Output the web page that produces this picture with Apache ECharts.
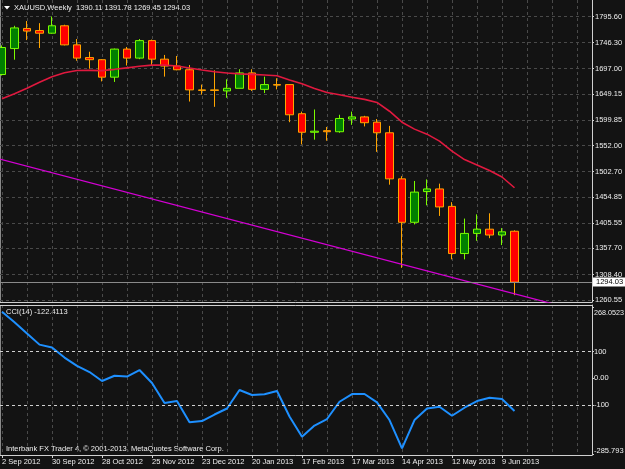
<!DOCTYPE html>
<html><head><meta charset="utf-8">
<script src="https://cdn.jsdelivr.net/npm/echarts@6/dist/echarts.min.js"></script>
<style>html,body{margin:0;padding:0;background:#131313;}#c{width:625px;height:469px;}</style>
</head><body><div id="c"></div>
<script>
// ---- data (weekly XAUUSD, index 0 = week of 2 Sep 2012) ----
const weekIndex = [0,1,2,3,4,5,6,7,8,9,10,11,12,13,14,15,16,17,18,19,20,21,22,23,24,25,26,27,28,29,30,31,32,33,34,35,36,37,38,39,40,41];
const opens  = [1686,1735,1773,1769,1764,1778,1742,1718,1714,1681,1734,1717,1750,1715,1702,1695,1657,1657,1655,1660,1689,1658,1667,1667,1612,1577,1580,1578,1602,1606,1596,1576,1489,1407,1465,1470,1437,1348,1386,1394,1383,1390.11];
const highs  = [1741,1778,1787,1783,1795.6,1780,1753,1729,1715,1735,1738,1753,1752,1723,1721,1704,1667,1694,1677,1696,1696,1682,1679,1668,1616,1620,1587,1610,1616,1608,1602,1589,1494,1485,1488,1480,1445,1414,1422,1424,1396,1391.78];
const lows   = [1684,1714,1751,1736,1763,1741,1712,1697,1673,1672,1703,1715,1704,1682,1694,1635,1648,1625,1642,1660,1655,1651,1658,1596,1554,1563,1561,1576,1591,1588,1540,1478,1321,1403,1439,1419,1337,1337,1372,1377,1364,1269.45];
const closes = [1737,1774,1768,1764,1778,1742,1717,1714,1681,1734,1717,1750,1715,1702,1695,1657,1656,1656,1660,1689,1658,1667,1666,1610,1577,1579,1578,1603,1606,1595,1576,1489,1407,1464,1470,1436,1348,1386,1394,1383,1389,1294.03];
const maValues = [1640.3,1649.7,1660.0,1671.3,1681.7,1689.2,1693.6,1693.9,1693.4,1695.8,1698.6,1701.5,1703.7,1703.7,1702.0,1698.3,1694.5,1691.1,1688.9,1687.3,1686.2,1685.1,1683.6,1675.7,1668.5,1659.5,1652.1,1647.8,1643.1,1639.1,1633.3,1616.7,1596.0,1582.9,1573.4,1560.3,1541.4,1525.4,1515.1,1504.7,1492.5,1472.2];
const cciValues = [250,210.5,168.5,126.5,115.6,78,46.9,23.6,-10.1,9.8,6.8,31.1,-17.6,-92.7,-85.2,-165.1,-160.2,-135.8,-113.3,-43.9,-62.7,-60,-47.7,-143.3,-219.1,-177.1,-152.7,-87.8,-58.9,-58.9,-90.1,-156.5,-262.7,-156.5,-113.3,-106.6,-140.3,-110.3,-85.2,-72.8,-77.7,-122.4113];
const trendLine = [[-1,1531.3],[44,1253.5]];
const bidPrice = 1294.03;
const cciLevels = [100,-100];
const priceTicks = [1795.60,1746.30,1697.00,1649.15,1599.85,1552.00,1502.70,1454.85,1405.55,1357.70,1308.40,1260.55];
const cciTicks = [268.0523,100,0,-100,-285.793];
const cciTickLabels = ['268.0523','100','0.00','-100','-285.793'];
const dateLabels = ['2 Sep 2012','30 Sep 2012','28 Oct 2012','25 Nov 2012','23 Dec 2012','20 Jan 2013','17 Feb 2013','17 Mar 2013','14 Apr 2013','12 May 2013','9 Jun 2013'];
const dateTickIdx = dateLabels.map((d,k)=>k*4);

// ---- build ----
const FONT = 'Liberation Sans';
const TXT = '#eeeeee';
const FRAME = '#d0d0d0';
const GRIDC = '#4a4a4a';
const candleData = weekIndex.map((x,i)=>[x, opens[i], closes[i], lows[i], highs[i]]);
const maData = weekIndex.map((x,i)=>[x, maValues[i]]);
const cciData = weekIndex.map((x,i)=>[x, cciValues[i]]);
const last = weekIndex.length-1;

const xSplit = {type:'value', min:-4, max:47.2, interval:2,
  axisLabel:{show:false}, axisTick:{show:false},
  splitLine:{show:true, lineStyle:{color:GRIDC, type:[3,3], width:1}}};

const chart = echarts.init(document.getElementById('c'), null, {renderer:'canvas'});
chart.setOption({
  backgroundColor:'#131313',
  animation:false,
  textStyle:{fontFamily:FONT},
  grid:[
    {left:-48, right:33, top:0, height:302, containLabel:false, outerBoundsMode:'none'},
    {left:-48, right:33, top:305, height:150, containLabel:false, outerBoundsMode:'none'}
  ],
  xAxis:[
    Object.assign({}, xSplit, {gridIndex:0, position:'bottom', axisLine:{show:true, onZero:false, lineStyle:{color:FRAME}}}),
    Object.assign({}, xSplit, {gridIndex:1, position:'top', axisLine:{show:true, onZero:false, lineStyle:{color:FRAME}}}),
    {type:'value', gridIndex:1, position:'bottom', min:-4, max:47.2,
     axisLine:{show:true, onZero:false, lineStyle:{color:FRAME}},
     axisTick:{show:true, customValues:dateTickIdx, length:3, lineStyle:{color:FRAME}},
     axisLabel:{show:true, customValues:dateTickIdx, formatter:v=>dateLabels[Math.round(v/4)]||'', align:'left', color:TXT, fontSize:7.5, fontFamily:FONT, margin:3},
     splitLine:{show:false}}
  ],
  yAxis:[
    {type:'value', gridIndex:0, position:'right', min:1256.5, max:1826.7,
     axisLine:{show:true, onZero:false, lineStyle:{color:FRAME}},
     axisTick:{show:true, customValues:priceTicks, length:2, lineStyle:{color:FRAME}},
     axisLabel:{customValues:priceTicks, formatter:v=>v.toFixed(2), color:TXT, fontSize:7.5, fontFamily:FONT, margin:3},
     splitLine:{show:true, lineStyle:{color:GRIDC, type:[3,3], width:1}}},
    {type:'value', gridIndex:1, position:'right', min:-287.7, max:275.2,
     axisLine:{show:true, onZero:false, lineStyle:{color:FRAME}},
     axisTick:{show:true, customValues:cciTicks, length:2, lineStyle:{color:FRAME}},
     axisLabel:{customValues:cciTicks, color:TXT, fontSize:7.5, fontFamily:FONT, margin:2,
       formatter:v=>{
         const k = cciTicks.findIndex(t=>Math.abs(t-v)<1e-6);
         const s = k>=0 ? cciTickLabels[k] : String(v);
         if (k===0) return '{dn|'+s+'}';
         if (k===cciTicks.length-1) return '{up|'+s+'}';
         return s;
       },
       rich:{
         dn:{padding:[13,0,0,0], color:TXT, fontSize:7.2, fontFamily:FONT},
         up:{padding:[0,0,8,0], color:TXT, fontSize:7.5, fontFamily:FONT}
       }},
     splitLine:{show:false}}
  ],
  series:[
    {type:'candlestick', name:'XAUUSD', xAxisIndex:0, yAxisIndex:0, data:candleData, barWidth:8,
     itemStyle:{color:'#008000', color0:'#ff0000', borderColor:'#7cfc00', borderColor0:'#ffa500', borderWidth:1},
     markLine:{silent:true, symbol:['none','none'], animation:false,
       data:[{yAxis:bidPrice}],
       lineStyle:{color:'#8a8a8a', type:'solid', width:1},
       label:{show:true, position:'end', formatter:bidPrice.toFixed(2), backgroundColor:'#ffffff', color:'#000000', fontSize:7.5, fontFamily:FONT, padding:[1,3,0,3], distance:1}}},
    {type:'line', name:'MA', xAxisIndex:0, yAxisIndex:0, data:maData, showSymbol:false, clip:true,
     lineStyle:{color:'#e0193f', width:1.6}},
    {type:'line', name:'Trend', xAxisIndex:0, yAxisIndex:0, data:trendLine, showSymbol:false, clip:true,
     lineStyle:{color:'#d400d4', width:1.3}},
    {type:'line', name:'CCI(14)', xAxisIndex:1, yAxisIndex:1, data:cciData, showSymbol:false, clip:true,
     lineStyle:{color:'#1e90ff', width:2},
     markLine:{silent:true, symbol:['none','none'], animation:false,
       data:cciLevels.map(v=>({yAxis:v})),
       lineStyle:{color:'#d0d0d0', type:[3,3], width:1},
       label:{show:false}}}
  ],
  graphic:[
    {type:'line', shape:{x1:0.5,y1:0,x2:0.5,y2:302}, style:{stroke:'#8a8a8a', lineWidth:1}, silent:true},
    {type:'line', shape:{x1:0.5,y1:305,x2:0.5,y2:455}, style:{stroke:'#8a8a8a', lineWidth:1}, silent:true},
    {type:'polygon', shape:{points:[[4,6],[10,6],[7,9.5]]}, style:{fill:'#ffffff'}, silent:true},
    {type:'text', x:14, y:3.5, silent:true, style:{text:'XAUUSD,Weekly  '+opens[last].toFixed(2)+' '+highs[last].toFixed(2)+' '+lows[last].toFixed(2)+' '+closes[last].toFixed(2), fill:TXT, fontSize:7.5, fontFamily:FONT, verticalAlign:'top'}},
    {type:'text', x:6, y:308, silent:true, style:{text:'CCI(14) '+cciValues[last].toFixed(4), fill:TXT, fontSize:7.5, fontFamily:FONT, verticalAlign:'top'}},
    {type:'text', x:6, y:444.5, silent:true, style:{text:'Interbank FX Trader 4, © 2001-2013, MetaQuotes Software Corp.', fill:TXT, fontSize:7.5, fontFamily:FONT, verticalAlign:'top'}}
  ]
});
</script></body></html>
